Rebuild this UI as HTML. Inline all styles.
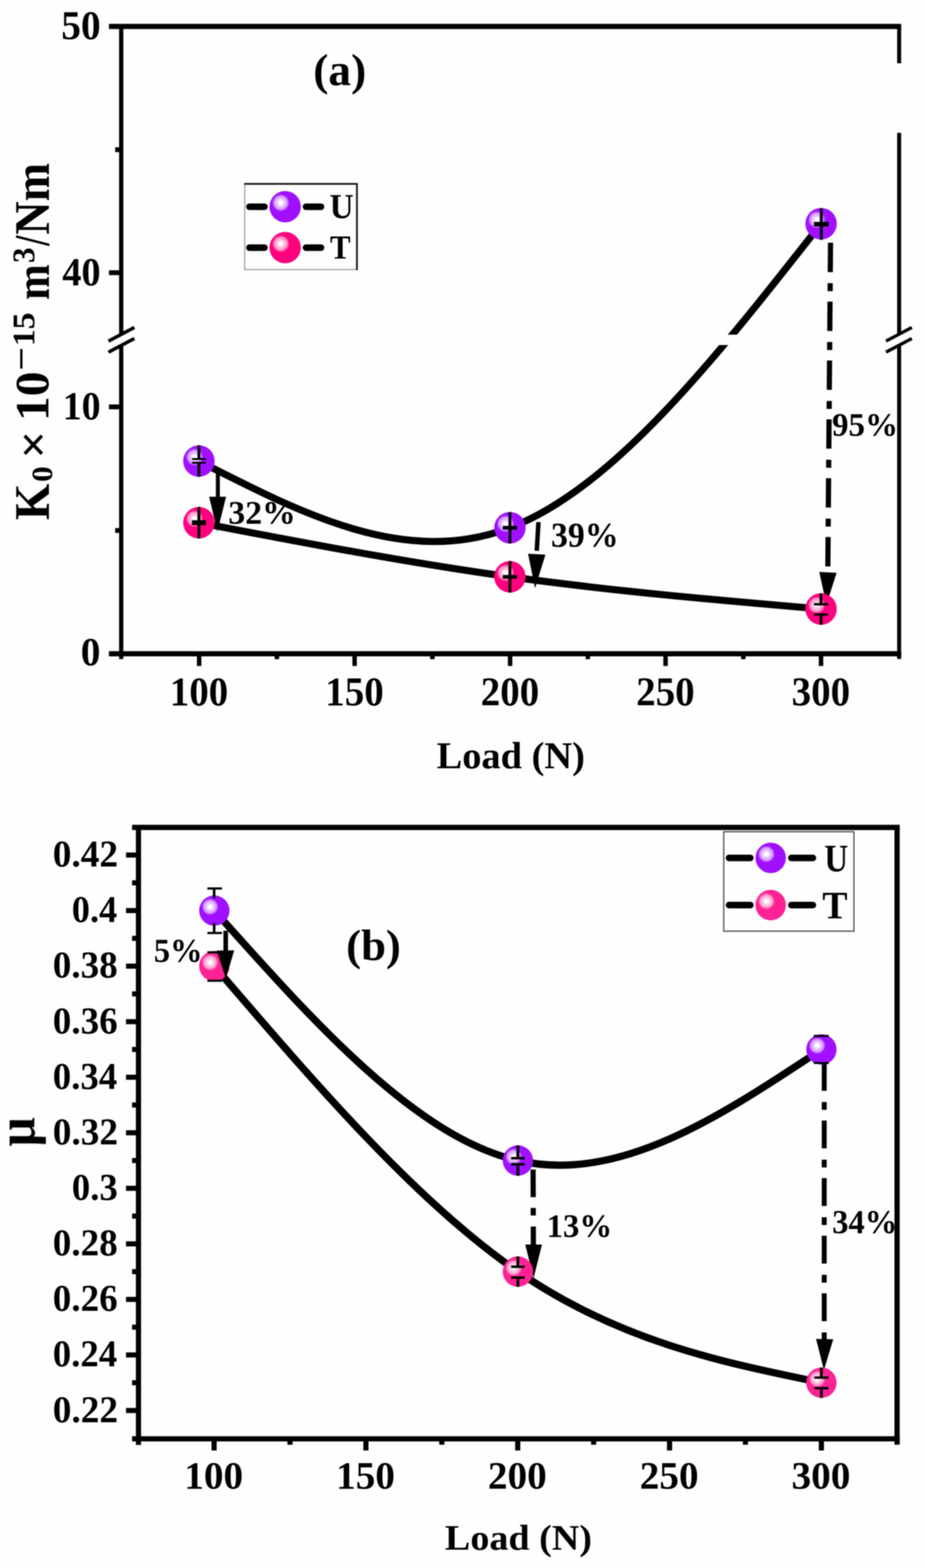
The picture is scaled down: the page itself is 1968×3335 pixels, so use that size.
<!DOCTYPE html>
<html lang="en"><head><meta charset="utf-8"><title>Wear rate and friction coefficient vs load</title>
<style>
html,body{margin:0;padding:0;background:#fefefe;}
body{width:1968px;height:3335px;overflow:hidden;}
svg{display:block;}
text{font-family:"Liberation Serif","Times New Roman",serif;}
</style></head><body>
<svg width="1968" height="3335" viewBox="0 0 1968 3335" role="img" aria-label="Wear rate and friction coefficient versus load">
<defs>
<filter id="soft" x="0" y="0" width="1968" height="3335" filterUnits="userSpaceOnUse" color-interpolation-filters="sRGB"><feGaussianBlur stdDeviation="0.8"/></filter>
<radialGradient id="gU" cx="0.36" cy="0.375" r="0.27" fx="0.36" fy="0.375" gradientUnits="objectBoundingBox">
<stop offset="0" stop-color="#ffffff"/><stop offset="0.2" stop-color="#ffffff"/><stop offset="0.42" stop-color="#ecc9ff"/><stop offset="0.7" stop-color="#dda6ff"/><stop offset="0.88" stop-color="#c068ff"/><stop offset="1" stop-color="#a010ff"/>
</radialGradient>
<radialGradient id="gT" cx="0.36" cy="0.375" r="0.27" fx="0.36" fy="0.375" gradientUnits="objectBoundingBox">
<stop offset="0" stop-color="#ffffff"/><stop offset="0.2" stop-color="#ffffff"/><stop offset="0.42" stop-color="#ffc4e1"/><stop offset="0.7" stop-color="#ff9ccd"/><stop offset="0.88" stop-color="#ff58ab"/><stop offset="1" stop-color="#ff007f"/>
</radialGradient>
<radialGradient id="gV" cx="0.36" cy="0.375" r="0.27" fx="0.36" fy="0.375" gradientUnits="objectBoundingBox">
<stop offset="0" stop-color="#ffffff"/><stop offset="0.2" stop-color="#ffffff"/><stop offset="0.42" stop-color="#ffcce6"/><stop offset="0.7" stop-color="#ffa8d4"/><stop offset="0.88" stop-color="#ff68b4"/><stop offset="1" stop-color="#ff2294"/>
</radialGradient>
</defs>
<g filter="url(#soft)">
<rect x="-20" y="-20" width="2008" height="3375" fill="#fefefe"/>

<g id="chart-a">
<line x1="231.80" y1="56.30" x2="1917.30" y2="56.30" stroke="#000" stroke-width="11.0" stroke-linecap="butt"/>
<line x1="231.80" y1="1390.50" x2="1917.50" y2="1390.50" stroke="#000" stroke-width="11.2" stroke-linecap="butt"/>
<line x1="257.90" y1="56.30" x2="257.90" y2="712.00" stroke="#000" stroke-width="9.0" stroke-linecap="butt"/>
<line x1="257.90" y1="734.00" x2="257.90" y2="1401.80" stroke="#000" stroke-width="9.0" stroke-linecap="butt"/>
<line x1="1913.00" y1="56.30" x2="1913.00" y2="134.60" stroke="#000" stroke-width="8.5" stroke-linecap="butt"/>
<line x1="1913.00" y1="282.60" x2="1913.00" y2="712.00" stroke="#000" stroke-width="8.5" stroke-linecap="butt"/>
<line x1="1913.00" y1="734.00" x2="1913.00" y2="1401.50" stroke="#000" stroke-width="8.5" stroke-linecap="butt"/>
<line x1="230.80" y1="725.50" x2="285.80" y2="696.50" stroke="#000" stroke-width="7.2" stroke-linecap="butt"/>
<line x1="230.80" y1="749.00" x2="285.80" y2="720.00" stroke="#000" stroke-width="7.2" stroke-linecap="butt"/>
<line x1="1885.00" y1="725.50" x2="1940.00" y2="696.50" stroke="#000" stroke-width="7.0" stroke-linecap="butt"/>
<line x1="1885.00" y1="749.00" x2="1940.00" y2="720.00" stroke="#000" stroke-width="7.0" stroke-linecap="butt"/>
<line x1="231.80" y1="580.00" x2="257.90" y2="580.00" stroke="#000" stroke-width="10.3" stroke-linecap="butt"/>
<line x1="231.80" y1="865.40" x2="257.90" y2="865.40" stroke="#000" stroke-width="10.3" stroke-linecap="butt"/>
<line x1="245.00" y1="318.40" x2="257.90" y2="318.40" stroke="#000" stroke-width="10.3" stroke-linecap="butt"/>
<line x1="245.00" y1="1128.30" x2="257.90" y2="1128.30" stroke="#000" stroke-width="10.3" stroke-linecap="butt"/>
<line x1="423.70" y1="1390.50" x2="423.70" y2="1416.50" stroke="#000" stroke-width="9.5" stroke-linecap="butt"/>
<line x1="754.47" y1="1390.50" x2="754.47" y2="1416.50" stroke="#000" stroke-width="9.5" stroke-linecap="butt"/>
<line x1="1085.25" y1="1390.50" x2="1085.25" y2="1416.50" stroke="#000" stroke-width="9.5" stroke-linecap="butt"/>
<line x1="1416.03" y1="1390.50" x2="1416.03" y2="1416.50" stroke="#000" stroke-width="9.5" stroke-linecap="butt"/>
<line x1="1746.80" y1="1390.50" x2="1746.80" y2="1416.50" stroke="#000" stroke-width="9.5" stroke-linecap="butt"/>
<line x1="589.09" y1="1390.50" x2="589.09" y2="1402.00" stroke="#000" stroke-width="9.5" stroke-linecap="butt"/>
<line x1="919.86" y1="1390.50" x2="919.86" y2="1402.00" stroke="#000" stroke-width="9.5" stroke-linecap="butt"/>
<line x1="1250.64" y1="1390.50" x2="1250.64" y2="1402.00" stroke="#000" stroke-width="9.5" stroke-linecap="butt"/>
<line x1="1581.41" y1="1390.50" x2="1581.41" y2="1402.00" stroke="#000" stroke-width="9.5" stroke-linecap="butt"/>
<text transform="translate(130.24 83.14) scale(0.9731 1)" font-size="86.22" font-weight="bold" fill="#000">50</text>
<text transform="translate(132.48 606.75) scale(0.9656 1)" font-size="84.59" font-weight="bold" fill="#000">40</text>
<text transform="translate(133.55 891.76) scale(0.9608 1)" font-size="83.85" font-weight="bold" fill="#000">10</text>
<text transform="translate(171.75 1414.96) scale(1.0018 1)" font-size="83.85" font-weight="bold" fill="#000">0</text>
<text transform="translate(423.40 1499.74) scale(0.9596 1)" font-size="86.37" font-weight="bold" text-anchor="middle" fill="#000">100</text>
<text transform="translate(754.17 1499.74) scale(0.9596 1)" font-size="86.37" font-weight="bold" text-anchor="middle" fill="#000">150</text>
<text transform="translate(1084.95 1499.74) scale(0.9596 1)" font-size="86.37" font-weight="bold" text-anchor="middle" fill="#000">200</text>
<text transform="translate(1415.73 1499.74) scale(0.9596 1)" font-size="86.37" font-weight="bold" text-anchor="middle" fill="#000">250</text>
<text transform="translate(1746.50 1499.74) scale(0.9596 1)" font-size="86.37" font-weight="bold" text-anchor="middle" fill="#000">300</text>
<text transform="translate(928.97 1633.51) scale(1.0161 1)" font-size="80.44" font-weight="bold" fill="#000">Load (N)</text>
<text transform="translate(666.39 181.23) scale(1.0246 1)" font-size="94.44" font-weight="bold" fill="#000">(a)</text>
<path d="M423.20 980.60 C643.77 1093.57 864.33 1206.55 1084.90 1122.50 C1305.60 1038.40 1526.30 757.05 1747.00 475.70" fill="none" stroke="#000" stroke-width="15.0"/>
<path d="M423.20 1111.70 C643.77 1153.95 864.33 1196.20 1084.90 1226.80 C1305.53 1257.41 1526.17 1276.35 1746.80 1295.30" fill="none" stroke="#000" stroke-width="15.0"/>
<rect x="1500.00" y="711.70" width="100.00" height="22.20" fill="#fefefe"/>
<line x1="463.50" y1="1000.00" x2="463.50" y2="1060.00" stroke="#000" stroke-width="8.5" stroke-linecap="butt"/>
<polygon points="445.00,1056.38 481.00,1056.62 462.50,1131.00" fill="#000"/>
<line x1="1145.60" y1="1110.50" x2="1142.00" y2="1171.50" stroke="#000" stroke-width="9.5" stroke-linecap="butt"/>
<polygon points="1123.52,1177.85 1160.48,1179.75 1138.30,1251.00" fill="#000"/>
<line x1="1767.00" y1="516.30" x2="1761.20" y2="1219.00" stroke="#000" stroke-width="11" stroke-linecap="butt" stroke-dasharray="62.4 23.6 17 22.2" stroke-dashoffset="0"/>
<polygon points="1743.02,1216.41 1779.98,1218.19 1758.20,1286.00" fill="#000"/>
<circle cx="423.20" cy="980.60" r="33.5" fill="url(#gU)"/>
<circle cx="1084.90" cy="1122.50" r="33.5" fill="url(#gU)"/>
<circle cx="1747.00" cy="475.70" r="33.5" fill="url(#gU)"/>
<circle cx="423.20" cy="1111.70" r="33.5" fill="url(#gT)"/>
<circle cx="1084.90" cy="1226.80" r="33.5" fill="url(#gT)"/>
<circle cx="1746.80" cy="1295.30" r="33.5" fill="url(#gT)"/>
<line x1="423.20" y1="947.10" x2="423.20" y2="976.30" stroke="#000" stroke-width="6.0" stroke-linecap="butt"/>
<line x1="423.20" y1="984.30" x2="423.20" y2="1014.10" stroke="#000" stroke-width="6.0" stroke-linecap="butt"/>
<line x1="408.70" y1="976.30" x2="437.70" y2="976.30" stroke="#000" stroke-width="4" stroke-linecap="butt"/>
<line x1="408.70" y1="984.30" x2="437.70" y2="984.30" stroke="#000" stroke-width="4" stroke-linecap="butt"/>
<line x1="423.20" y1="1078.20" x2="423.20" y2="1111.70" stroke="#000" stroke-width="6.0" stroke-linecap="butt"/>
<line x1="423.20" y1="1111.70" x2="423.20" y2="1145.20" stroke="#000" stroke-width="6.0" stroke-linecap="butt"/>
<line x1="408.70" y1="1111.70" x2="437.70" y2="1111.70" stroke="#000" stroke-width="10" stroke-linecap="butt"/>
<line x1="408.70" y1="1111.70" x2="437.70" y2="1111.70" stroke="#000" stroke-width="10" stroke-linecap="butt"/>
<line x1="1084.90" y1="1089.00" x2="1084.90" y2="1122.50" stroke="#000" stroke-width="6.0" stroke-linecap="butt"/>
<line x1="1084.90" y1="1122.50" x2="1084.90" y2="1156.00" stroke="#000" stroke-width="6.0" stroke-linecap="butt"/>
<line x1="1069.90" y1="1122.50" x2="1099.90" y2="1122.50" stroke="#000" stroke-width="7.5" stroke-linecap="butt"/>
<line x1="1069.90" y1="1122.50" x2="1099.90" y2="1122.50" stroke="#000" stroke-width="7.5" stroke-linecap="butt"/>
<line x1="1084.90" y1="1193.30" x2="1084.90" y2="1226.80" stroke="#000" stroke-width="6.0" stroke-linecap="butt"/>
<line x1="1084.90" y1="1226.80" x2="1084.90" y2="1260.30" stroke="#000" stroke-width="6.0" stroke-linecap="butt"/>
<line x1="1069.90" y1="1226.80" x2="1099.90" y2="1226.80" stroke="#000" stroke-width="7.5" stroke-linecap="butt"/>
<line x1="1069.90" y1="1226.80" x2="1099.90" y2="1226.80" stroke="#000" stroke-width="7.5" stroke-linecap="butt"/>
<line x1="1747.40" y1="443.20" x2="1747.40" y2="476.70" stroke="#000" stroke-width="6" stroke-linecap="butt"/>
<line x1="1747.40" y1="476.70" x2="1747.40" y2="510.20" stroke="#000" stroke-width="6" stroke-linecap="butt"/>
<line x1="1731.90" y1="476.70" x2="1762.90" y2="476.70" stroke="#000" stroke-width="9.3" stroke-linecap="butt"/>
<line x1="1731.90" y1="476.70" x2="1762.90" y2="476.70" stroke="#000" stroke-width="9.3" stroke-linecap="butt"/>
<line x1="1746.80" y1="1261.80" x2="1746.80" y2="1285.20" stroke="#000" stroke-width="6.0" stroke-linecap="butt"/>
<line x1="1746.80" y1="1307.00" x2="1746.80" y2="1328.80" stroke="#000" stroke-width="6.0" stroke-linecap="butt"/>
<line x1="1731.80" y1="1285.20" x2="1761.80" y2="1285.20" stroke="#000" stroke-width="5" stroke-linecap="butt"/>
<line x1="1731.80" y1="1307.00" x2="1761.80" y2="1307.00" stroke="#000" stroke-width="5" stroke-linecap="butt"/>
<text transform="translate(485.81 1114.43) scale(1.0272 1)" font-size="69.82" font-weight="bold" fill="#000">32%</text>
<text transform="translate(1172.20 1163.09) scale(0.9852 1)" font-size="73.06" font-weight="bold" fill="#000">39%</text>
<text transform="translate(1770.27 926.62) scale(0.9923 1)" font-size="70.70" font-weight="bold" fill="#000">95%</text>
<rect x="520.6" y="390.8" width="239" height="182.5" fill="none" stroke="#8a8a8a" stroke-width="2"/>
<path d="M519.6 391.2 H759.4 V574.4" fill="none" stroke="#161616" stroke-width="3.8"/>
<line x1="530.60" y1="439.70" x2="562.70" y2="439.70" stroke="#000" stroke-width="14" stroke-linecap="round"/>
<line x1="651.00" y1="439.70" x2="683.00" y2="439.70" stroke="#000" stroke-width="14" stroke-linecap="round"/>
<circle cx="606.70" cy="439.70" r="33.4" fill="url(#gU)"/>
<text transform="translate(701.23 464.26) scale(0.9626 1)" font-size="73.68" font-weight="bold" fill="#000">U</text>
<line x1="530.60" y1="526.70" x2="562.70" y2="526.70" stroke="#000" stroke-width="14" stroke-linecap="round"/>
<line x1="651.00" y1="526.70" x2="683.00" y2="526.70" stroke="#000" stroke-width="14" stroke-linecap="round"/>
<circle cx="606.70" cy="526.70" r="33.4" fill="url(#gT)"/>
<text transform="translate(702.01 550.00) scale(0.9260 1)" font-size="71.15" font-weight="bold" fill="#000">T</text>
</g>
<g id="ylabel-a" transform="translate(104 0) rotate(-90)">
<text transform="translate(-1106.15 0.00) scale(0.9474 1)" font-size="105.34" font-weight="bold" fill="#000">K</text>
<text transform="translate(-1025.10 7.16) scale(1.0356 1)" font-size="64.30" font-weight="bold" fill="#000">0</text>
<text transform="translate(-975.44 0.31) scale(1.0445 1)" font-size="100.12" font-weight="bold" fill="#000">×</text>
<text transform="translate(-895.87 -1.02) scale(1.0353 1)" font-size="102.22" font-weight="bold" fill="#000">10</text>
<text transform="translate(-788.71 -35.25) scale(1.2555 1)" font-size="71.43" font-weight="bold" fill="#000">−</text>
<text transform="translate(-736.35 -31.27) scale(1.0696 1)" font-size="67.16" font-weight="bold" fill="#000">15</text>
<text transform="translate(-637.90 0.00) scale(0.9047 1)" font-size="100.64" font-weight="bold" fill="#000">m</text>
<text transform="translate(-559.49 -31.27) scale(0.9928 1)" font-size="66.91" font-weight="bold" fill="#000">3</text>
<text transform="translate(-522.82 -0.05) scale(0.7468 1)" font-size="104.87" font-weight="bold" fill="#000">/</text>
<text transform="translate(-498.96 0.00) scale(0.9296 1)" font-size="105.34" font-weight="bold" fill="#000">Nm</text>
</g>
<g id="chart-b">
<line x1="281.00" y1="1759.80" x2="1914.20" y2="1759.80" stroke="#000" stroke-width="11.2" stroke-linecap="butt"/>
<line x1="281.00" y1="3060.20" x2="1914.20" y2="3060.20" stroke="#000" stroke-width="11" stroke-linecap="butt"/>
<line x1="294.60" y1="1759.80" x2="294.60" y2="3073.20" stroke="#000" stroke-width="11" stroke-linecap="butt"/>
<line x1="1908.60" y1="1759.80" x2="1908.60" y2="3072.80" stroke="#000" stroke-width="11.2" stroke-linecap="butt"/>
<line x1="268.10" y1="1818.60" x2="294.60" y2="1818.60" stroke="#000" stroke-width="10.8" stroke-linecap="butt"/>
<line x1="281.00" y1="1877.67" x2="294.60" y2="1877.67" stroke="#000" stroke-width="10.8" stroke-linecap="butt"/>
<line x1="268.10" y1="1936.74" x2="294.60" y2="1936.74" stroke="#000" stroke-width="10.8" stroke-linecap="butt"/>
<line x1="281.00" y1="1995.81" x2="294.60" y2="1995.81" stroke="#000" stroke-width="10.8" stroke-linecap="butt"/>
<line x1="268.10" y1="2054.88" x2="294.60" y2="2054.88" stroke="#000" stroke-width="10.8" stroke-linecap="butt"/>
<line x1="281.00" y1="2113.95" x2="294.60" y2="2113.95" stroke="#000" stroke-width="10.8" stroke-linecap="butt"/>
<line x1="268.10" y1="2173.02" x2="294.60" y2="2173.02" stroke="#000" stroke-width="10.8" stroke-linecap="butt"/>
<line x1="281.00" y1="2232.09" x2="294.60" y2="2232.09" stroke="#000" stroke-width="10.8" stroke-linecap="butt"/>
<line x1="268.10" y1="2291.16" x2="294.60" y2="2291.16" stroke="#000" stroke-width="10.8" stroke-linecap="butt"/>
<line x1="281.00" y1="2350.23" x2="294.60" y2="2350.23" stroke="#000" stroke-width="10.8" stroke-linecap="butt"/>
<line x1="268.10" y1="2409.30" x2="294.60" y2="2409.30" stroke="#000" stroke-width="10.8" stroke-linecap="butt"/>
<line x1="281.00" y1="2468.37" x2="294.60" y2="2468.37" stroke="#000" stroke-width="10.8" stroke-linecap="butt"/>
<line x1="268.10" y1="2527.44" x2="294.60" y2="2527.44" stroke="#000" stroke-width="10.8" stroke-linecap="butt"/>
<line x1="281.00" y1="2586.51" x2="294.60" y2="2586.51" stroke="#000" stroke-width="10.8" stroke-linecap="butt"/>
<line x1="268.10" y1="2645.58" x2="294.60" y2="2645.58" stroke="#000" stroke-width="10.8" stroke-linecap="butt"/>
<line x1="281.00" y1="2704.65" x2="294.60" y2="2704.65" stroke="#000" stroke-width="10.8" stroke-linecap="butt"/>
<line x1="268.10" y1="2763.72" x2="294.60" y2="2763.72" stroke="#000" stroke-width="10.8" stroke-linecap="butt"/>
<line x1="281.00" y1="2822.79" x2="294.60" y2="2822.79" stroke="#000" stroke-width="10.8" stroke-linecap="butt"/>
<line x1="268.10" y1="2881.86" x2="294.60" y2="2881.86" stroke="#000" stroke-width="10.8" stroke-linecap="butt"/>
<line x1="281.00" y1="2940.93" x2="294.60" y2="2940.93" stroke="#000" stroke-width="10.8" stroke-linecap="butt"/>
<line x1="268.10" y1="3000.00" x2="294.60" y2="3000.00" stroke="#000" stroke-width="10.8" stroke-linecap="butt"/>
<line x1="455.50" y1="3060.20" x2="455.50" y2="3085.00" stroke="#000" stroke-width="11" stroke-linecap="butt"/>
<line x1="778.50" y1="3060.20" x2="778.50" y2="3085.00" stroke="#000" stroke-width="11" stroke-linecap="butt"/>
<line x1="1101.50" y1="3060.20" x2="1101.50" y2="3085.00" stroke="#000" stroke-width="11" stroke-linecap="butt"/>
<line x1="1424.50" y1="3060.20" x2="1424.50" y2="3085.00" stroke="#000" stroke-width="11" stroke-linecap="butt"/>
<line x1="1747.50" y1="3060.20" x2="1747.50" y2="3085.00" stroke="#000" stroke-width="11" stroke-linecap="butt"/>
<line x1="617.00" y1="3060.20" x2="617.00" y2="3072.80" stroke="#000" stroke-width="11" stroke-linecap="butt"/>
<line x1="940.00" y1="3060.20" x2="940.00" y2="3072.80" stroke="#000" stroke-width="11" stroke-linecap="butt"/>
<line x1="1263.00" y1="3060.20" x2="1263.00" y2="3072.80" stroke="#000" stroke-width="11" stroke-linecap="butt"/>
<line x1="1586.00" y1="3060.20" x2="1586.00" y2="3072.80" stroke="#000" stroke-width="11" stroke-linecap="butt"/>
<text transform="translate(112.22 1843.19) scale(0.9832 1)" font-size="80.88" font-weight="bold" fill="#000">0.42</text>
<text transform="translate(152.80 1961.33) scale(0.9549 1)" font-size="80.88" font-weight="bold" fill="#000">0.4</text>
<text transform="translate(112.24 2079.47) scale(0.9773 1)" font-size="80.88" font-weight="bold" fill="#000">0.38</text>
<text transform="translate(112.24 2197.61) scale(0.9759 1)" font-size="80.88" font-weight="bold" fill="#000">0.36</text>
<text transform="translate(112.26 2315.75) scale(0.9687 1)" font-size="80.88" font-weight="bold" fill="#000">0.34</text>
<text transform="translate(112.22 2433.89) scale(0.9832 1)" font-size="80.88" font-weight="bold" fill="#000">0.32</text>
<text transform="translate(152.76 2552.03) scale(0.9691 1)" font-size="80.88" font-weight="bold" fill="#000">0.3</text>
<text transform="translate(112.24 2670.17) scale(0.9773 1)" font-size="80.88" font-weight="bold" fill="#000">0.28</text>
<text transform="translate(112.24 2788.31) scale(0.9759 1)" font-size="80.88" font-weight="bold" fill="#000">0.26</text>
<text transform="translate(112.26 2906.45) scale(0.9687 1)" font-size="80.88" font-weight="bold" fill="#000">0.24</text>
<text transform="translate(112.22 3024.59) scale(0.9832 1)" font-size="80.88" font-weight="bold" fill="#000">0.22</text>
<text transform="translate(454.60 3166.37) scale(1.0056 1)" font-size="83.11" font-weight="bold" text-anchor="middle" fill="#000">100</text>
<text transform="translate(777.60 3166.37) scale(1.0056 1)" font-size="83.11" font-weight="bold" text-anchor="middle" fill="#000">150</text>
<text transform="translate(1100.60 3166.37) scale(1.0056 1)" font-size="83.11" font-weight="bold" text-anchor="middle" fill="#000">200</text>
<text transform="translate(1423.60 3166.37) scale(1.0056 1)" font-size="83.11" font-weight="bold" text-anchor="middle" fill="#000">250</text>
<text transform="translate(1746.60 3166.37) scale(1.0056 1)" font-size="83.11" font-weight="bold" text-anchor="middle" fill="#000">300</text>
<text transform="translate(946.58 3295.84) scale(1.0660 1)" font-size="76.03" font-weight="bold" fill="#000">Load (N)</text>
<text transform="translate(736.45 2042.47) scale(1.0153 1)" font-size="93.77" font-weight="bold" fill="#000">(b)</text>
<g transform="rotate(-90)">
<text transform="translate(-2438.37 73.51) scale(0.9501 1)" font-size="115.24" font-weight="bold" fill="#000">μ</text>
</g>
<path d="M456.00 1936.74 C671.30 2177.96 886.60 2419.18 1101.90 2468.37 C1317.13 2517.55 1532.37 2374.82 1747.60 2232.09" fill="none" stroke="#000" stroke-width="15.4"/>
<path d="M456.00 2054.88 C671.30 2305.93 886.60 2556.97 1101.90 2704.65 C1317.13 2852.28 1532.37 2896.61 1747.60 2940.93" fill="none" stroke="#000" stroke-width="15.4"/>
<line x1="1134.20" y1="2487.50" x2="1134.80" y2="2650.00" stroke="#000" stroke-width="11" stroke-linecap="butt" stroke-dasharray="58.7 23 16 23.6" stroke-dashoffset="0"/>
<polygon points="1117.55,2646.88 1153.05,2646.92 1135.20,2718.50" fill="#000"/>
<line x1="1753.60" y1="2260.70" x2="1753.60" y2="2850.00" stroke="#000" stroke-width="10.5" stroke-linecap="butt" stroke-dasharray="59.3 23.9 16.7 22.6" stroke-dashoffset="0"/>
<polygon points="1736.25,2847.78 1772.75,2848.62 1753.00,2914.00" fill="#000"/>
<circle cx="456.00" cy="1936.74" r="32.3" fill="url(#gU)"/>
<circle cx="1101.90" cy="2468.37" r="32.3" fill="url(#gU)"/>
<circle cx="1747.60" cy="2232.09" r="32.3" fill="url(#gU)"/>
<circle cx="456.00" cy="2054.88" r="32.3" fill="url(#gV)"/>
<circle cx="1101.90" cy="2704.65" r="32.3" fill="url(#gV)"/>
<circle cx="1747.60" cy="2940.93" r="32.3" fill="url(#gV)"/>
<line x1="455.60" y1="1889.70" x2="455.60" y2="1910.50" stroke="#000" stroke-width="5.5" stroke-linecap="butt"/>
<line x1="455.60" y1="1963.30" x2="455.60" y2="1984.40" stroke="#000" stroke-width="5.5" stroke-linecap="butt"/>
<line x1="441.20" y1="1889.70" x2="472.30" y2="1889.70" stroke="#000" stroke-width="4.6" stroke-linecap="butt"/>
<line x1="441.20" y1="1984.40" x2="472.30" y2="1984.40" stroke="#000" stroke-width="4.6" stroke-linecap="butt"/>
<line x1="441.20" y1="2025.50" x2="472.30" y2="2025.50" stroke="#000" stroke-width="4.5" stroke-linecap="butt"/>
<line x1="441.20" y1="2086.00" x2="472.30" y2="2086.00" stroke="#000" stroke-width="4.5" stroke-linecap="butt"/>
<line x1="1731.20" y1="2203.30" x2="1763.20" y2="2203.30" stroke="#000" stroke-width="4.2" stroke-linecap="butt"/>
<line x1="1731.20" y1="2260.90" x2="1763.20" y2="2260.90" stroke="#000" stroke-width="4.2" stroke-linecap="butt"/>
<line x1="1101.90" y1="2436.07" x2="1101.90" y2="2463.37" stroke="#000" stroke-width="6.0" stroke-linecap="butt"/>
<line x1="1101.90" y1="2476.27" x2="1101.90" y2="2500.67" stroke="#000" stroke-width="6.0" stroke-linecap="butt"/>
<line x1="1087.50" y1="2463.37" x2="1116.30" y2="2463.37" stroke="#000" stroke-width="5.2" stroke-linecap="butt"/>
<line x1="1087.50" y1="2476.27" x2="1116.30" y2="2476.27" stroke="#000" stroke-width="5.2" stroke-linecap="butt"/>
<line x1="1101.90" y1="2672.35" x2="1101.90" y2="2694.25" stroke="#000" stroke-width="6.0" stroke-linecap="butt"/>
<line x1="1101.90" y1="2717.25" x2="1101.90" y2="2736.95" stroke="#000" stroke-width="6.0" stroke-linecap="butt"/>
<line x1="1087.50" y1="2694.25" x2="1116.30" y2="2694.25" stroke="#000" stroke-width="5.2" stroke-linecap="butt"/>
<line x1="1087.50" y1="2717.25" x2="1116.30" y2="2717.25" stroke="#000" stroke-width="5.2" stroke-linecap="butt"/>
<line x1="1747.60" y1="2908.63" x2="1747.60" y2="2930.03" stroke="#000" stroke-width="6.0" stroke-linecap="butt"/>
<line x1="1747.60" y1="2952.53" x2="1747.60" y2="2973.23" stroke="#000" stroke-width="6.0" stroke-linecap="butt"/>
<line x1="1732.60" y1="2930.03" x2="1762.60" y2="2930.03" stroke="#000" stroke-width="5.0" stroke-linecap="butt"/>
<line x1="1732.60" y1="2952.53" x2="1762.60" y2="2952.53" stroke="#000" stroke-width="5.0" stroke-linecap="butt"/>
<line x1="480.20" y1="1979.50" x2="480.20" y2="2026.00" stroke="#000" stroke-width="9.7" stroke-linecap="butt"/>
<polygon points="461.30,2021.68 498.30,2021.32 480.40,2081.50" fill="#000"/>
<text transform="translate(327.23 2046.41) scale(0.9663 1)" font-size="71.59" font-weight="bold" fill="#000">5%</text>
<text transform="translate(1163.02 2631.43) scale(0.9985 1)" font-size="69.82" font-weight="bold" fill="#000">13%</text>
<text transform="translate(1770.40 2622.70) scale(0.9597 1)" font-size="72.32" font-weight="bold" fill="#000">34%</text>
<rect x="1539.8" y="1769" width="277" height="211.5" fill="none" stroke="#4a4a4a" stroke-width="2.6"/>
<line x1="1551.00" y1="1824.70" x2="1596.40" y2="1824.70" stroke="#000" stroke-width="14" stroke-linecap="round"/>
<line x1="1683.60" y1="1824.70" x2="1729.50" y2="1824.70" stroke="#000" stroke-width="14" stroke-linecap="round"/>
<circle cx="1639.70" cy="1824.70" r="32.4" fill="url(#gU)"/>
<text transform="translate(1753.64 1853.18) scale(0.8582 1)" font-size="81.95" font-weight="bold" fill="#000">U</text>
<line x1="1551.00" y1="1925.00" x2="1596.40" y2="1925.00" stroke="#000" stroke-width="14" stroke-linecap="round"/>
<line x1="1683.60" y1="1925.00" x2="1729.50" y2="1925.00" stroke="#000" stroke-width="14" stroke-linecap="round"/>
<circle cx="1639.70" cy="1925.00" r="32.4" fill="url(#gV)"/>
<text transform="translate(1749.49 1953.40) scale(0.9815 1)" font-size="81.98" font-weight="bold" fill="#000">T</text>
</g>
</g></svg></body></html>
